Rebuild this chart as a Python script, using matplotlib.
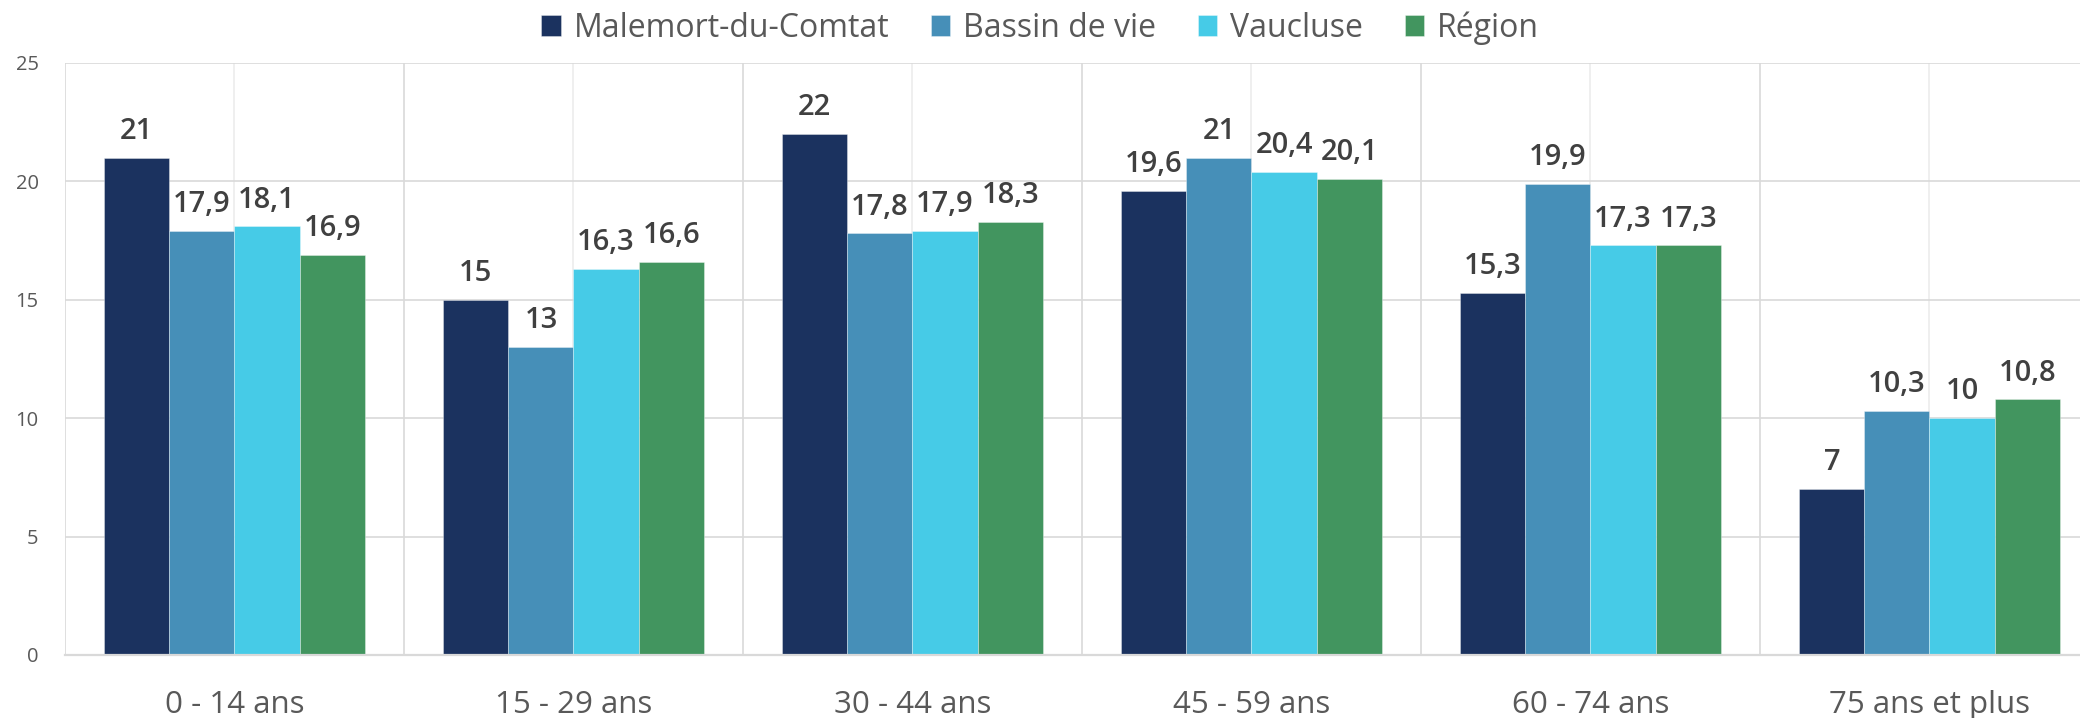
import numpy as np
import matplotlib
matplotlib.use('Agg')
import matplotlib.pyplot as plt

plt.rcParams['font.family'] = ['Open Sans', 'DejaVu Sans']

# data
categories = ['0 - 14 ans', '15 - 29 ans', '30 - 44 ans', '45 - 59 ans', '60 - 74 ans', '75 ans et plus']
series_names = ['Malemort-du-Comtat', 'Bassin de vie', 'Vaucluse', 'Région']
malemort = [21, 15, 22, 19.6, 15.3, 7]
bassin = [17.9, 13, 17.8, 21, 19.9, 10.3]
vaucluse = [18.1, 16.3, 17.9, 20.4, 17.3, 10]
region = [16.9, 16.6, 18.3, 20.1, 17.3, 10.8]
yticks = [0, 5, 10, 15, 20, 25]

colors = ['#1b325f', '#468fb8', '#46cbe7', '#42955f']

W, H = 2080, 718
fig = plt.figure(figsize=(W / 100, H / 100), dpi=100)
# axes runs a bit past the right edge, like the original crop
ax = fig.add_axes([65 / W, 63 / H, 2034 / W, 592 / H])

x = np.arange(len(categories))
bw = 0.192
allseries = [malemort, bassin, vaucluse, region]

def fmt(v):
    s = ('%.1f' % v).rstrip('0').rstrip('.')
    return s.replace('.', ',')

bars = []
for i, vals in enumerate(allseries):
    b = ax.bar(x + (i - 1.5) * bw, vals, bw, color=colors[i],
               edgecolor=(1, 1, 1, 0.35), linewidth=0.7, label=series_names[i], zorder=2)
    bars.append(b)
    for xi, v in zip(x + (i - 1.5) * bw, vals):
        ax.annotate(fmt(v), (xi, v), xytext=(0, 13.5), textcoords='offset points',
                    ha='center', va='baseline', fontsize=21, fontweight='semibold',
                    color='#404040', zorder=3)

ax.set_xlim(-0.5, len(categories) - 0.5)
ax.set_ylim(0, 25)
ax.set_yticks(yticks)
ax.set_yticklabels([str(t) for t in yticks])
ax.set_xticks(x)
ax.set_xticklabels(categories)
ax.set_xticks(np.arange(len(categories) + 1) - 0.5, minor=True)

ax.tick_params(axis='y', length=0, pad=19, labelsize=14.5, labelcolor='#595959')
ax.tick_params(axis='x', which='both', length=0, pad=25, labelsize=22.5, labelcolor='#595959')

ax.set_axisbelow(True)
ax.grid(axis='y', color='#d9d9d9', linewidth=1.2)
ax.grid(axis='x', which='minor', color='#d9d9d9', linewidth=1.2)
ax.grid(axis='x', which='major', color='#ececec', linewidth=1.2)

for s in ['top', 'right', 'left']:
    ax.spines[s].set_visible(False)
ax.spines['bottom'].set_color('#d9d9d9')
ax.spines['bottom'].set_linewidth(1.6)

leg = fig.legend(handles=bars, labels=series_names, loc='center', bbox_to_anchor=(0.5, 1 - 28 / H),
                 ncol=4, frameon=False, fontsize=23, handlelength=0.62, handleheight=0.62,
                 handletextpad=0.4, columnspacing=1.3, borderaxespad=0)
for t in leg.get_texts():
    t.set_color('#595959')

fig.savefig('out.png', dpi=100)
